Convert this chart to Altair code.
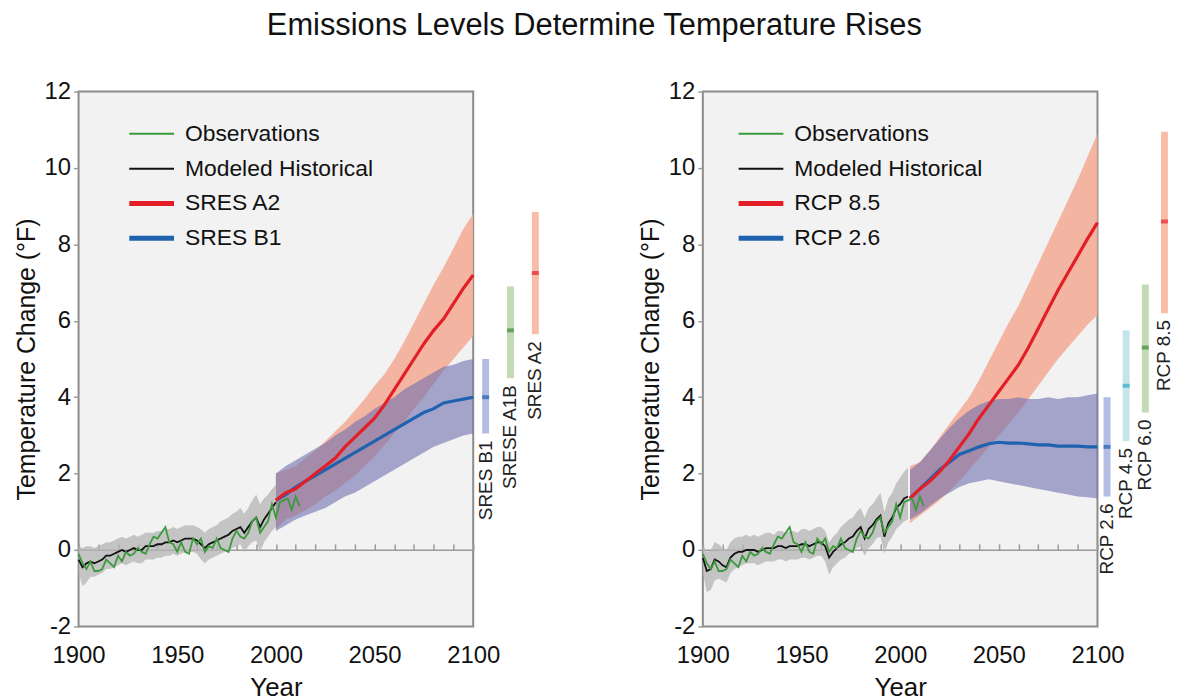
import altair as alt
import pandas as pd

FONT = "Liberation Sans"

# ---------------- data ----------------
obs_years = list(range(1900, 2013, 2))
observations = [-0.1, -0.35, -0.5, -0.3, -0.55, -0.55, -0.5, -0.25, -0.35, -0.45,
                -0.15, -0.3, -0.05, -0.15, -0.1, 0.05, -0.05, -0.1, 0.15, 0.35,
                0.3, 0.45, 0.6, 0.2, 0.15, -0.05, 0.2, -0.05, -0.1, 0.3,
                0.15, 0.3, -0.05, 0.1, 0.05, 0.3, 0.05, 0.0, -0.05, 0.3,
                0.5, 0.35, 0.3, 0.45, 0.75, 0.85, 0.45, 0.6, 0.75, 1.2,
                0.85, 1.25, 1.3, 1.35, 1.05, 1.4, 1.15]

# left panel (SRES) modeled historical
hist_years_l = list(range(1900, 2001, 2))
model_l = [-0.25, -0.45, -0.35, -0.3, -0.35, -0.3, -0.25, -0.15, -0.15, -0.1,
           -0.05, 0.0, -0.05, 0.0, 0.05, 0.0, 0.0, 0.1, 0.1, 0.1,
           0.15, 0.15, 0.2, 0.2, 0.25, 0.2, 0.25, 0.3, 0.3, 0.3,
           0.25, 0.15, 0.05, 0.15, 0.2, 0.25, 0.3, 0.35, 0.4, 0.5,
           0.55, 0.6, 0.45, 0.6, 0.75, 0.85, 0.6, 0.8, 0.95, 1.1, 1.25]
grey_lo_l = [-0.6, -0.95, -0.85, -0.7, -0.7, -0.65, -0.6, -0.5, -0.5, -0.45,
             -0.4, -0.35, -0.4, -0.35, -0.3, -0.35, -0.35, -0.25, -0.25, -0.25,
             -0.2, -0.2, -0.15, -0.15, -0.1, -0.15, -0.1, -0.05, -0.05, -0.05,
             -0.1, -0.25, -0.35, -0.25, -0.2, -0.15, -0.1, -0.05, 0.0, 0.05,
             0.1, 0.15, -0.05, 0.1, 0.2, 0.25, -0.05, 0.2, 0.35, 0.5, 0.6]
grey_hi_l = [0.1, 0.05, 0.1, 0.1, 0.05, 0.1, 0.15, 0.2, 0.2, 0.25,
             0.3, 0.35, 0.3, 0.35, 0.4, 0.35, 0.4, 0.45, 0.45, 0.45,
             0.5, 0.5, 0.55, 0.55, 0.6, 0.55, 0.6, 0.65, 0.65, 0.65,
             0.6, 0.55, 0.45, 0.55, 0.6, 0.65, 0.75, 0.8, 0.85, 0.95,
             1.0, 1.1, 0.95, 1.1, 1.3, 1.45, 1.2, 1.35, 1.45, 1.6, 1.7]

proj_years_l = list(range(2000, 2101, 5))
a2_mean = [1.3, 1.5, 1.6, 1.8, 2.0, 2.2, 2.4, 2.7, 2.95, 3.2, 3.45, 3.8, 4.2, 4.6,
           5.0, 5.4, 5.75, 6.05, 6.45, 6.85, 7.2]
a2_lo = [0.55, 0.8, 0.9, 1.05, 1.2, 1.4, 1.55, 1.75, 1.95, 2.2, 2.45, 2.75, 3.05,
         3.35, 3.7, 4.0, 4.35, 4.7, 5.0, 5.3, 5.6]
a2_hi = [2.0, 2.1, 2.2, 2.4, 2.6, 2.85, 3.1, 3.35, 3.65, 3.95, 4.3, 4.6, 5.0, 5.45,
         5.95, 6.45, 6.95, 7.4, 7.9, 8.4, 8.8]
b1_mean = [1.3, 1.45, 1.65, 1.8, 1.95, 2.1, 2.25, 2.4, 2.55, 2.7, 2.85, 3.0, 3.15,
           3.3, 3.45, 3.6, 3.7, 3.85, 3.9, 3.95, 4.0]
b1_lo = [0.5, 0.65, 0.8, 0.9, 1.0, 1.1, 1.25, 1.4, 1.5, 1.65, 1.8, 1.95, 2.1, 2.25,
         2.4, 2.55, 2.7, 2.8, 2.9, 3.0, 3.05]
b1_hi = [2.0, 2.2, 2.35, 2.5, 2.65, 2.8, 3.0, 3.15, 3.35, 3.5, 3.7, 3.85, 4.0, 4.2,
         4.35, 4.5, 4.65, 4.8, 4.85, 4.95, 5.0]

# right panel (RCP) modeled historical
hist_years_r = list(range(1900, 2005, 2))
model_r = [-0.2, -0.55, -0.5, -0.25, -0.3, -0.4, -0.45, -0.2, -0.1, -0.05,
           -0.05, 0.0, 0.0, 0.0, -0.05, 0.0, 0.05, 0.05, 0.05, 0.1,
           0.1, 0.05, 0.1, 0.1, 0.1, 0.15, 0.15, 0.1, 0.15, 0.2,
           0.2, 0.1, -0.2, -0.05, 0.05, 0.15, 0.2, 0.3, 0.35, 0.5,
           0.6, 0.3, 0.55, 0.65, 0.8, 0.9, 0.35, 0.7, 0.85, 1.1,
           1.2, 1.35, 1.4]
grey_lo_r = [-0.6, -1.1, -1.05, -0.8, -0.75, -0.8, -0.85, -0.6, -0.5, -0.45,
             -0.4, -0.35, -0.35, -0.35, -0.4, -0.35, -0.3, -0.3, -0.3, -0.25,
             -0.25, -0.3, -0.25, -0.25, -0.25, -0.2, -0.2, -0.25, -0.2, -0.15,
             -0.15, -0.3, -0.65, -0.45, -0.35, -0.25, -0.2, -0.1, -0.05, 0.05,
             0.1, -0.15, 0.05, 0.15, 0.3, 0.35, -0.1, 0.2, 0.35, 0.55,
             0.65, 0.75, 0.8]
grey_hi_r = [0.15, -0.05, 0.0, 0.2, 0.15, 0.05, 0.0, 0.2, 0.3, 0.35,
             0.35, 0.4, 0.35, 0.4, 0.35, 0.4, 0.45, 0.45, 0.4, 0.5,
             0.5, 0.45, 0.5, 0.5, 0.45, 0.55, 0.55, 0.5, 0.55, 0.6,
             0.6, 0.5, 0.2, 0.35, 0.45, 0.6, 0.7, 0.8, 0.85, 1.0,
             1.1, 0.85, 1.1, 1.2, 1.35, 1.5, 1.0, 1.35, 1.5, 1.75,
             1.9, 2.05, 2.15]

proj_years_r = list(range(2005, 2101, 5))
rcp85_mean = [1.35, 1.6, 1.8, 2.05, 2.35, 2.7, 3.05, 3.45, 3.8, 4.15, 4.5, 4.85,
              5.3, 5.8, 6.3, 6.8, 7.25, 7.7, 8.15, 8.57]
rcp85_lo = [0.7, 0.9, 1.1, 1.3, 1.55, 1.8, 2.1, 2.4, 2.7, 3.0, 3.3, 3.6, 3.95,
            4.3, 4.65, 5.0, 5.3, 5.6, 5.9, 6.15]
rcp85_hi = [2.2, 2.3, 2.6, 2.95, 3.3, 3.65, 4.0, 4.45, 4.95, 5.45, 5.95, 6.4,
            6.95, 7.5, 8.05, 8.6, 9.15, 9.7, 10.3, 10.9]
rcp26_mean = [1.35, 1.6, 1.85, 2.1, 2.3, 2.5, 2.6, 2.7, 2.78, 2.82, 2.8, 2.8,
              2.78, 2.75, 2.75, 2.72, 2.72, 2.72, 2.7, 2.7]
rcp26_lo = [0.8, 0.95, 1.15, 1.35, 1.5, 1.65, 1.75, 1.8, 1.85, 1.8, 1.75, 1.7,
            1.65, 1.6, 1.55, 1.5, 1.45, 1.4, 1.38, 1.35]
rcp26_hi = [2.1, 2.3, 2.6, 2.9, 3.2, 3.45, 3.65, 3.8, 3.9, 3.95, 3.95, 4.0,
            3.95, 3.95, 4.0, 3.95, 4.0, 4.0, 4.05, 4.1]

# side range bars (2100 projections)
side_l_names = ["SRES B1", "SRESE A1B", "SRES A2"]
side_l_lo = [3.05, 4.5, 5.65]
side_l_hi = [5.0, 6.9, 8.85]
side_l_med = [4.0, 5.75, 7.25]

side_r_names = ["RCP 2.6", "RCP 4.5", "RCP 6.0", "RCP 8.5"]
side_r_lo = [1.4, 2.85, 3.6, 6.2]
side_r_hi = [4.0, 5.75, 6.95, 10.95]
side_r_med = [2.7, 4.3, 5.3, 8.6]

decades = list(range(1900, 2101, 10))

# ---------------- styling ----------------
C_OBS = "#3c9a3c"
C_HIST = "#111111"
C_RED = "#e41e26"
C_BLUE = "#1f62b0"
BAR_FILL = {"blue": "#b3bde3", "cyan": "#c5e5ec", "green": "#c4d9b5", "red": "#f9bca8"}
BAR_MED = {"blue": "#1f5fae", "cyan": "#2aaec5", "green": "#3c8c3c", "red": "#e8202a"}

W, H = 397, 538
YDOM = [-2, 12]
ZERO_OFFSET = -round(H * 12 / 14)


def yscale():
    return alt.Scale(domain=YDOM, nice=False, zero=False)


def xscale():
    return alt.Scale(domain=[1900, 2100], nice=False, zero=False)


X_AXIS = alt.Axis(values=[1900, 1950, 2000, 2050, 2100], format="d", title="Year",
                  ticks=False, domain=False, grid=False, labelFontSize=24,
                  titleFontSize=26, titleFontWeight="normal", labelPadding=17,
                  titlePadding=8, labelFlush=False, labelColor="#111",
                  titleColor="#111", labelFont=FONT, titleFont=FONT)
Y_AXIS = alt.Axis(values=list(range(-2, 13, 2)), title="Temperature Change (°F)",
                  labelExpr="'' + datum.value",
                  ticks=True, tickSize=5, tickColor="#9a9a9a", tickWidth=1.5,
                  domain=False, grid=False, labelFontSize=24, titleFontSize=25,
                  titleFontWeight="normal", labelPadding=3, titlePadding=5,
                  labelColor="#111", titleColor="#111", labelFont=FONT,
                  titleFont=FONT)


def X(field="year"):
    return alt.X(f"{field}:Q", scale=xscale(), axis=X_AXIS)


def Y(field):
    return alt.Y(f"{field}:Q", scale=yscale(), axis=Y_AXIS)


def panel(model_years, model, glo, ghi, proj_years,
          hi_name, hi_mean, hi_lo, hi_hi, lo_name, lo_mean, lo_lo, lo_hi, legend_x,
          side_names, side_lo, side_hi, side_med, side_fills, side_meds, side_end):
    grey_df = pd.DataFrame({"year": model_years, "lo": glo, "hi": ghi})
    hiband_df = pd.DataFrame({"year": proj_years, "lo": hi_lo, "hi": hi_hi})
    loband_df = pd.DataFrame({"year": proj_years, "lo": lo_lo, "hi": lo_hi})

    names = ["Observations", "Modeled Historical", hi_name, lo_name]
    thin_test = "indexof(['Observations', 'Modeled Historical'], datum.value) >= 0"
    color = alt.Color(
        "series:N",
        scale=alt.Scale(domain=names, range=[C_OBS, C_HIST, C_RED, C_BLUE]),
        legend=alt.Legend(orient="none", legendX=legend_x, legendY=31, title=None,
                          symbolType="stroke", symbolSize=2025, labelFontSize=23,
                          labelFont=FONT, labelColor="#111", rowPadding=11,
                          labelOffset=22, labelLimit=500, padding=0,
                          direction="vertical",
                          symbolStrokeWidth=alt.ExprRef(expr=f"{thin_test} ? 2 : 5")))

    def line_df(years, vals, name):
        return pd.DataFrame({"year": years, "val": vals, "series": name})

    grey = alt.Chart(grey_df).mark_area(color="#b4b4b4", opacity=0.75).encode(
        x=X(), y=Y("lo"), y2="hi")
    hiband = alt.Chart(hiband_df).mark_area(color="#f3ae98", opacity=0.9).encode(
        x=X(), y=Y("lo"), y2="hi")
    loband = alt.Chart(loband_df).mark_area(color="#6f6fb0", opacity=0.6).encode(
        x=X(), y=Y("lo"), y2="hi")

    layers = [grey, hiband, loband]
    for years, vals, name, sw in [(proj_years, lo_mean, lo_name, 3.2),
                                  (proj_years, hi_mean, hi_name, 3.2),
                                  (model_years, model, "Modeled Historical", 1.8),
                                  (obs_years, observations, "Observations", 1.8)]:
        layers.append(alt.Chart(line_df(years, vals, name)).mark_line(strokeWidth=sw).encode(
            x=X(), y=Y("val"), color=color))
    main = alt.layer(*layers)

    ticks = alt.Chart(pd.DataFrame({"decade": decades})).mark_point(opacity=0).encode(
        x=alt.X("decade:Q", scale=xscale(),
                axis=alt.Axis(orient="top", offset=ZERO_OFFSET, values=decades,
                              labels=False, ticks=True, tickSize=6,
                              tickColor="#9a9a9a", tickWidth=1.5, domain=True,
                              domainColor="#9a9a9a", domainWidth=1.5, grid=False,
                              title=None)))

    # range bars to the right of the plot (own band scale placed past the plot edge)
    sdf = pd.DataFrame({"name": side_names, "lo": side_lo, "hi": side_hi, "med": side_med})
    sx = alt.X("name:N", sort=side_names, axis=None,
               scale=alt.Scale(range=[W, side_end], paddingInner=0, paddingOuter=0))
    bars = alt.Chart(sdf).mark_bar(size=7).encode(
        x=sx, y=Y("lo"), y2="hi",
        color=alt.Color("name:N", scale=alt.Scale(domain=side_names, range=side_fills),
                        legend=None))
    meds = alt.Chart(sdf).mark_tick(thickness=4, size=7).encode(
        x=sx, y=Y("med"),
        color=alt.Color("name:N", scale=alt.Scale(domain=side_names, range=side_meds),
                        legend=None))
    labels = alt.Chart(sdf).mark_text(angle=270, align="right", baseline="middle",
                                      dx=-7, fontSize=19, font=FONT,
                                      color="#222").encode(
        x=sx, y=Y("lo"), text="name:N")
    side = alt.layer(bars, meds, labels).resolve_scale(color="independent")

    return alt.layer(ticks, main, side).resolve_scale(
        x="independent", color="independent").properties(
        width=W, height=H,
        view=alt.ViewBackground(fill="#f2f2f2", stroke="#8c8c8c", strokeWidth=2))


left = panel(hist_years_l, model_l, grey_lo_l, grey_hi_l, proj_years_l,
             "SRES A2", a2_mean, a2_lo, a2_hi, "SRES B1", b1_mean, b1_lo, b1_hi, 62,
             side_l_names, side_l_lo, side_l_hi, side_l_med,
             [BAR_FILL["blue"], BAR_FILL["green"], BAR_FILL["red"]],
             [BAR_MED["blue"], BAR_MED["green"], BAR_MED["red"]], W + 75)
right = panel(hist_years_r, model_r, grey_lo_r, grey_hi_r, proj_years_r,
              "RCP 8.5", rcp85_mean, rcp85_lo, rcp85_hi,
              "RCP 2.6", rcp26_mean, rcp26_lo, rcp26_hi, 47,
              side_r_names, side_r_lo, side_r_hi, side_r_med,
              [BAR_FILL["blue"], BAR_FILL["cyan"], BAR_FILL["green"], BAR_FILL["red"]],
              [BAR_MED["blue"], BAR_MED["cyan"], BAR_MED["green"], BAR_MED["red"]], W + 77)

chart = alt.hconcat(left, right, spacing=91).resolve_scale(
    color="independent", x="independent", y="independent"
).properties(
    title=alt.Title("Emissions Levels Determine Temperature Rises", fontSize=31,
                    fontWeight="normal", font=FONT, color="#111", anchor="middle",
                    offset=37),
    padding={"left": 5, "top": 0, "right": 0, "bottom": 5},
).configure(font=FONT, background="white")

chart.save("out.html", embed_options={"renderer": "svg", "actions": False})
